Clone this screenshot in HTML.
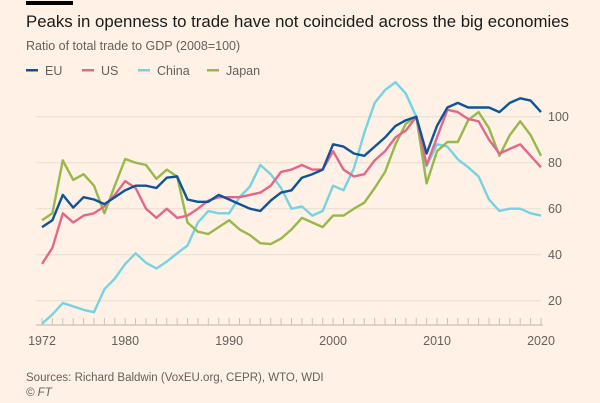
<!DOCTYPE html>
<html><head><meta charset="utf-8">
<style>
body{margin:0;background:#fff1e5;font-family:"Liberation Sans",sans-serif;}
svg{display:block}
</style></head><body>
<svg id="chart" width="600" height="403" viewBox="0 0 600 403">
<rect width="600" height="403" fill="#fff1e5"/>
<rect x="26" y="1" width="47" height="4" fill="#000"/>
<text x="26" y="27" font-size="16.8" fill="#1a1a1a">Peaks in openness to trade have not coincided across the big economies</text>
<text x="26" y="50" font-size="12.5" fill="#66605c">Ratio of total trade to GDP (2008=100)</text>
<g id="legend"></g>
<g id="grid"></g>
<g id="lines"></g>
<text x="26" y="381" font-size="11.5" fill="#66605c">Sources: Richard Baldwin (VoxEU.org, CEPR), WTO, WDI</text>
<text x="26" y="396" font-size="11.5" fill="#66605c" font-style="italic">© FT</text>
</svg>
<script>
const years=[];for(let y=1972;y<=2020;y++)years.push(y);
const eu=[52,55,66,60.5,65,64,62,65,68,70,70,69,73.5,74,64,63,63,66,64,62,60,59,63.5,67,68,73.5,75,77,88,87,84,83,87,91,96,98.5,100,84,96,104,106,104,104,104,102,106,108,107,102];
const us=[36,43,58,54,57,58,61,66,72,69,60,56,60,56,57,60,63.5,65,65,65,66,67,70,76,77,79,77,77,85,77,74,75,81,85,91,94,100,79,91,103,102,99,98,90,84,86,88,83,78];
const china=[10,14,19,17.5,16,15,25,29.6,36,40.6,36.5,34,37,40.6,44,54,59,58,58,65,69.6,79,75,69,60,61,57,59,70,68,77.5,93,106,111.6,115,110,100,78.5,88,87,81.5,78,74,64,59,60,60,58,57];
const japan=[55,58,81,72.5,75,70,58,70,81.6,80,79,73,77,74,54,50,49,52,55,51,48.5,45,44.6,47,51,56,54,52,57,57,60,62.6,69,76,88,97,100,71,85,89,89,98.5,102,95,83,92,98,92,83];
const seriesNames=["EU","US","China","Japan"];
const seriesData=[eu,us,china,japan];
const colors=["#0f5499","#e3678a","#75d3e3","#96b94a"];
const yTicks=[20,40,60,80,100];
const xTicks=[1972,1980,1990,2000,2010,2020];
const NS="http://www.w3.org/2000/svg";
const X=y=>42+(y-1972)*(541-42)/48;
const Y=v=>116.7+(100-v)*2.3;
function mk(t,a,p){const e=document.createElementNS(NS,t);for(const k in a)e.setAttribute(k,a[k]);p.appendChild(e);return e;}
const grid=document.getElementById('grid');
yTicks.forEach(v=>{
 const l=mk('line',{x1:36,x2:541,y1:Y(v),y2:Y(v),stroke:'#e9ddd2','stroke-width':1},grid);
 
 
 const t=mk('text',{x:548,y:Y(v)+4.5,'font-size':12.5,fill:'#66605c'},grid);
 t.textContent=v;
 
 
});
const ax=mk('line',{x1:36,x2:543,y1:325,y2:325,stroke:'#bdb5ad','stroke-width':1},grid);


years.forEach(y=>{
 const tk=mk('line',{x1:X(y),x2:X(y),y1:318,y2:325,stroke:'#ccc2b8','stroke-width':1},grid);
 
 
});
xTicks.forEach(y=>{
 const t=mk('text',{x:X(y),y:345,'font-size':12.5,fill:'#66605c','text-anchor':'middle'},grid);
 t.textContent=y;
 
 
});
const lines=document.getElementById('lines');
[2,3,1,0].forEach(i=>{
 const d=seriesData[i].map((v,j)=>(j?'L':'M')+X(years[j]).toFixed(1)+','+Y(v).toFixed(1)).join('');
 const p=mk('path',{d:d,fill:'none',stroke:colors[i],'stroke-width':2.4,'stroke-linejoin':'round'},lines);
 
 
});
const lg=document.getElementById('legend');
const lx=[26,82,138,207];
seriesNames.forEach((n,i)=>{
 const g=mk('g',{},lg);
 
 
 mk('rect',{x:lx[i],y:69,width:12,height:2.5,fill:colors[i]},g);
 const t=mk('text',{x:lx[i]+19,y:75,'font-size':12.5,fill:'#66605c'},g);
 t.textContent=n;
});
</script>
</body></html>
